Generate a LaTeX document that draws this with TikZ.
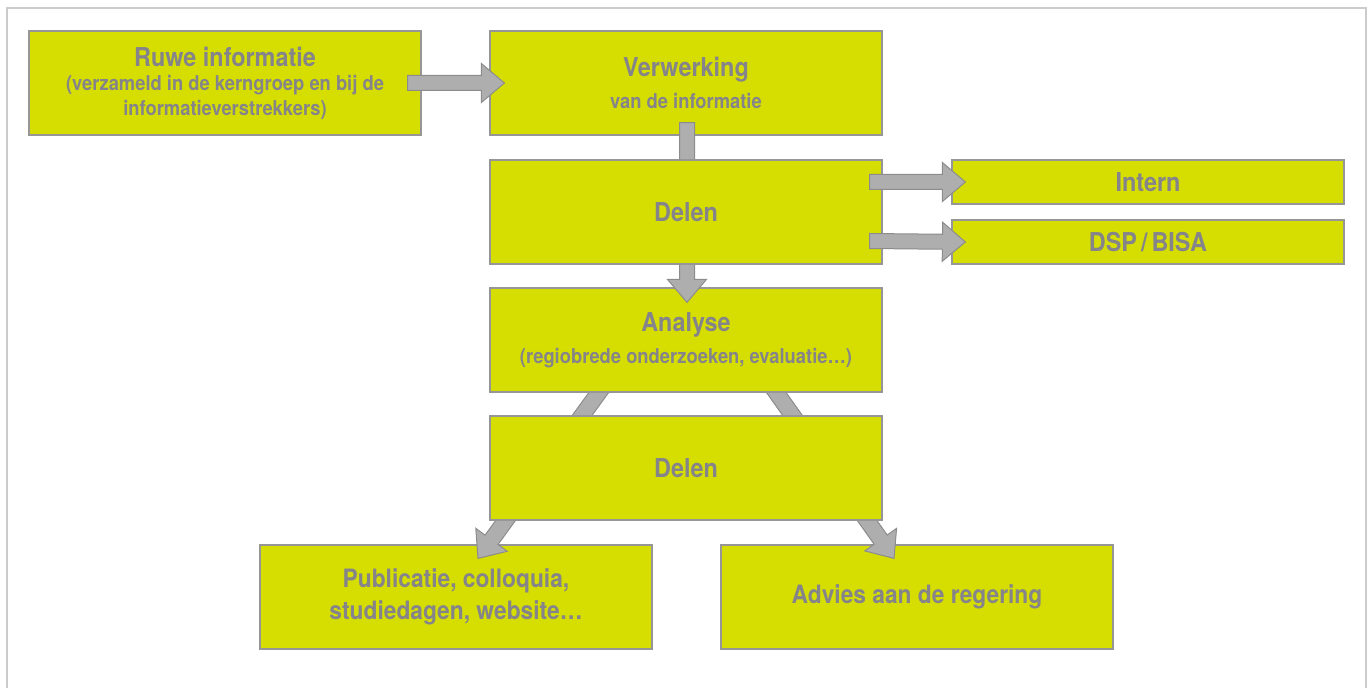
\documentclass[tikz,border=0pt]{standalone}
\usepackage{fontspec}
\setmainfont{TeX Gyre Heros}[FakeStretch=0.9]
\usetikzlibrary{calc}

\definecolor{geelgroen}{RGB}{213,222,0}
\definecolor{randgrijs}{RGB}{150,150,150}
\definecolor{tekstgrijs}{RGB}{132,132,138}
\definecolor{pijlgrijs}{RGB}{174,174,174}
\definecolor{pijlrand}{RGB}{140,140,140}
\definecolor{kadergrijs}{RGB}{204,204,204}

\newcommand{\kop}{\fontsize{26}{26}\selectfont}
% blokpijl[halve breedte]{van}{naar}
\newcommand{\blokpijl}[3][7.5pt]{%
  \coordinate (bp-basis) at ($(#3)!23pt!(#2)$);
  \draw[pijl] ($(#2)!#1!90:(#3)$) -- ($(bp-basis)!#1!90:(#3)$)
    -- ($(bp-basis)!19.5pt!90:(#3)$) -- (#3)
    -- ($(bp-basis)!19.5pt!-90:(#3)$) -- ($(bp-basis)!#1!-90:(#3)$)
    -- ($(#2)!#1!-90:(#3)$) -- cycle;
}

\begin{document}
\begin{tikzpicture}[x=1pt, y=1pt,
    vak/.style={draw=randgrijs, line width=1.2pt, fill=geelgroen,
      minimum width=392pt, minimum height=104pt, inner sep=0pt,
      align=center, text=tekstgrijs, font=\fontsize{20.4}{25}\selectfont\bfseries},
    onder/.style={vak, font=\fontsize{25.3}{32}\selectfont\bfseries},
    pijl/.style={draw=pijlrand, line width=1pt, fill=pijlgrijs, line join=miter},
    kader/.style={draw=kadergrijs, line width=2pt}]
    \useasboundingbox (0,0) rectangle (1371,688);
    \draw[kader] (7,0) -- (7,680) -- (1366,680) -- (1366,0);

    \node[onder] (publicatie) at (456,91) {Publicatie, colloquia,\\ studiedagen, website…};
    \node[onder] (advies) at (917,91) {Advies aan de regering};

    \coordinate (analyse-uit1) at (637,348);
    \coordinate (analyse-uit2) at (739,348);
    \coordinate (publ-in) at ($(publicatie.north)+(22,-14)$);
    \coordinate (advies-in) at ($(advies.north)+(-23,-14)$);
    \blokpijl[8pt]{analyse-uit1}{publ-in}
    \blokpijl[8pt]{analyse-uit2}{advies-in}

    \node[vak] (ruwe) at (225,605) {{\kop Ruwe informatie}\\[-1pt]
      (verzameld in de kerngroep en bij de\\ informatieverstrekkers)};
    \node[vak] (verwerking) at (686,605) {{\kop Verwerking}\\[7pt] van de informatie};
    \node[vak] (analyse) at (686,348) {{\kop Analyse}\\[7pt]
      (regiobrede onderzoeken, evaluatie…)};
    \node[vak] (delen2) at (686,220) {\kop Delen};
    \node[vak, minimum height=44pt] (intern) at (1148,506) {\kop Intern};
    \node[vak, minimum height=44pt] (dsp) at (1148,446) {\kop DSP\hspace{4pt}/\hspace{4pt}BISA};

    \coordinate (ruwe-uit) at ($(ruwe.east)+(-14,0)$);
    \coordinate (verw-in) at ($(verwerking.west)+(15,0)$);
    \blokpijl{ruwe-uit}{verw-in}

    \coordinate (verw-uit) at ($(verwerking.south)+(1,13)$);
    \coordinate (analyse-in) at ($(analyse.north)+(1,-15)$);
    \blokpijl{verw-uit}{analyse-in}

    \node[vak] (delen1) at (686,476) {\kop Delen};

    \coordinate (delen-uit1) at ($(delen1.east)+(-13,30)$);
    \coordinate (delen-uit2) at ($(delen1.east)+(-13,-29)$);
    \coordinate (intern-in) at ($(intern.west)+(14,0)$);
    \coordinate (dsp-in) at ($(dsp.west)+(14,0)$);
    \blokpijl{delen-uit1}{intern-in}
    \blokpijl{delen-uit2}{dsp-in}
\end{tikzpicture}
\end{document}
